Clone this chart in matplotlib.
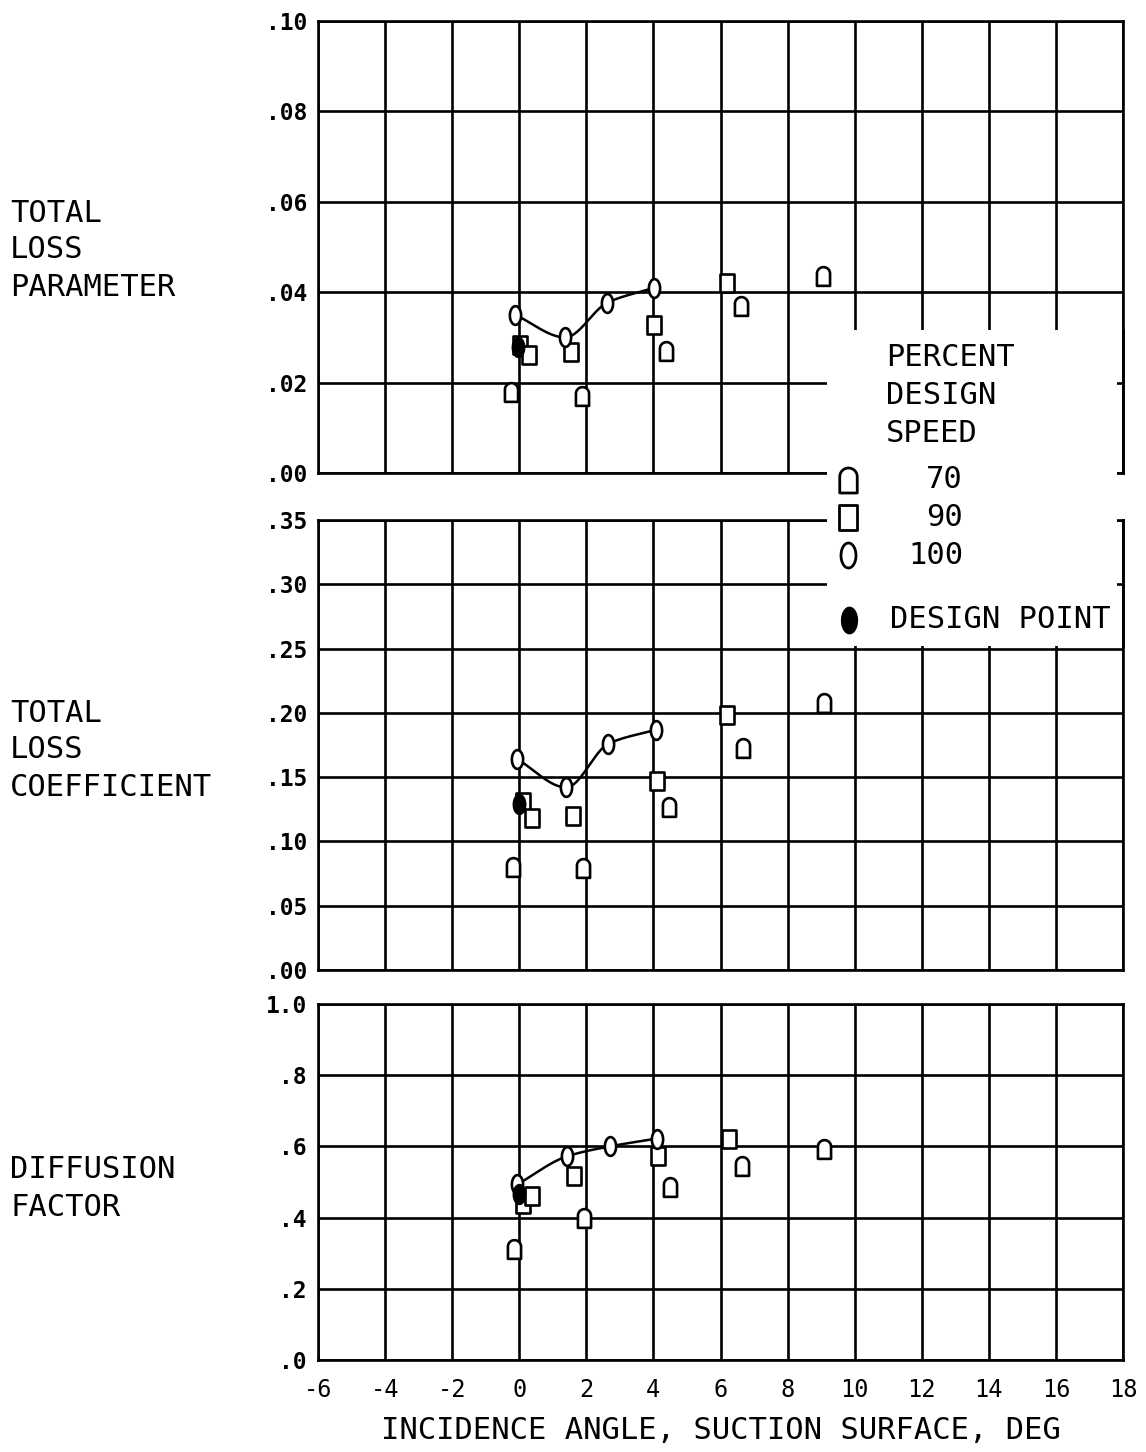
import numpy as np
import matplotlib.pyplot as plt
from matplotlib.path import Path
from matplotlib.markers import MarkerStyle
from matplotlib.patches import Rectangle

plt.rcParams['font.family'] = ['DejaVu Sans Mono', 'DejaVu Sans']

# incidence angle axis
x_ticks = [-6, -4, -2, 0, 2, 4, 6, 8, 10, 12, 14, 16, 18]
x_tick_labels = ['-6', '-4', '-2', '0', '2', '4', '6', '8', '10', '12', '14', '16', '18']

# total loss parameter
tlp_i_70 = [-0.24, 1.88, 4.39, 6.60, 9.07]
tlp_70 = [0.018, 0.017, 0.027, 0.037, 0.0435]
tlp_i_90 = [0.03, 0.30, 1.55, 4.03, 6.18]
tlp_90 = [0.0283, 0.026, 0.0267, 0.0327, 0.042]
tlp_i_100 = [-0.12, 1.37, 2.63, 4.03]
tlp_100 = [0.035, 0.030, 0.0377, 0.041]
tlp_design = (-0.03, 0.0278)

# total loss coefficient
tlc_i_70 = [-0.18, 1.91, 4.45, 6.66, 9.10]
tlc_70 = [0.080, 0.079, 0.127, 0.173, 0.208]
tlc_i_90 = [0.12, 0.39, 1.60, 4.12, 6.20]
tlc_90 = [0.131, 0.118, 0.120, 0.147, 0.198]
tlc_i_100 = [-0.06, 1.40, 2.66, 4.09]
tlc_100 = [0.164, 0.142, 0.176, 0.187]
tlc_design = (0.0, 0.129)

# diffusion factor
df_i_70 = [-0.15, 1.93, 4.48, 6.64, 9.10]
df_70 = [0.313, 0.400, 0.487, 0.545, 0.592]
df_i_90 = [0.12, 0.39, 1.63, 4.13, 6.26]
df_90 = [0.437, 0.462, 0.516, 0.572, 0.622]
df_i_100 = [-0.06, 1.42, 2.70, 4.10]
df_100 = [0.493, 0.572, 0.600, 0.622]
df_design = (0.0, 0.465)

speeds = ['70', '90', '100']


def pchip(x, y, xs):
    x = np.asarray(x, float)
    y = np.asarray(y, float)
    h = np.diff(x)
    d = np.diff(y) / h
    m = np.zeros_like(y)
    m[0], m[-1] = d[0], d[-1]
    for k in range(1, len(x) - 1):
        if d[k - 1] * d[k] > 0:
            w1 = 2 * h[k] + h[k - 1]
            w2 = h[k] + 2 * h[k - 1]
            m[k] = (w1 + w2) / (w1 / d[k - 1] + w2 / d[k])
    k = np.clip(np.searchsorted(x, xs) - 1, 0, len(x) - 2)
    t = (xs - x[k]) / h[k]
    h00 = 2 * t**3 - 3 * t**2 + 1
    h10 = t**3 - 2 * t**2 + t
    h01 = -2 * t**3 + 3 * t**2
    h11 = t**3 - t**2
    return h00 * y[k] + h10 * h[k] * m[k] + h01 * y[k + 1] + h11 * h[k] * m[k + 1]


def closed(verts):
    verts = np.vstack([verts, verts[:1]])
    codes = [Path.MOVETO] + [Path.LINETO] * (len(verts) - 2) + [Path.CLOSEPOLY]
    return MarkerStyle(Path(verts, codes), joinstyle='round')


t = np.linspace(0, np.pi, 24)
bell = closed(np.vstack([[[-0.35, -0.5], [0.35, -0.5]],
                         np.column_stack([0.35 * np.cos(t), 0.15 + 0.35 * np.sin(t)])]))
box = closed(np.array([[-0.35, -0.5], [0.35, -0.5], [0.35, 0.5], [-0.35, 0.5]]))
t = np.linspace(0, 2 * np.pi, 40)[:-1]
oval = closed(np.column_stack([0.3 * np.cos(t), 0.5 * np.sin(t)]))

fig = plt.figure(figsize=(11.46, 14.52), dpi=100)
W, H = 1146, 1452


def add_axes(top, bottom):
    return fig.add_axes([318 / W, 1 - bottom / H, 805 / W, (bottom - top) / H])


ax1 = add_axes(21, 473)
ax2 = add_axes(520, 970)
ax3 = add_axes(1004, 1360)

panels = [
    (ax1, (0, 0.10), [0, .02, .04, .06, .08, .10], ['.00', '.02', '.04', '.06', '.08', '.10'],
     (tlp_i_70, tlp_70), (tlp_i_90, tlp_90), (tlp_i_100, tlp_100), tlp_design),
    (ax2, (0, 0.35), [0, .05, .10, .15, .20, .25, .30, .35],
     ['.00', '.05', '.10', '.15', '.20', '.25', '.30', '.35'],
     (tlc_i_70, tlc_70), (tlc_i_90, tlc_90), (tlc_i_100, tlc_100), tlc_design),
    (ax3, (0, 1.0), [0, .2, .4, .6, .8, 1.0], ['.0', '.2', '.4', '.6', '.8', '1.0'],
     (df_i_70, df_70), (df_i_90, df_90), (df_i_100, df_100), df_design),
]

mk = dict(ls='none', ms=13.5, mew=1.9, mec='black', mfc='white', zorder=4)

for ax, ylim, yt, ytl, s70, s90, s100, dp in panels:
    ax.set_xlim(-6, 18)
    ax.set_ylim(*ylim)
    ax.set_xticks(x_ticks)
    ax.set_yticks(yt)
    ax.set_yticklabels(ytl, fontsize=16.5, fontweight='bold')
    ax.grid(True, color='black', lw=1.9)
    ax.set_axisbelow(True)
    ax.tick_params(length=0, pad=8)
    for sp in ax.spines.values():
        sp.set_linewidth(1.9)
    ax.spines['right'].set_zorder(20)

    xs = np.linspace(s100[0][0], s100[0][-1], 200)
    ax.plot(xs, pchip(s100[0], s100[1], xs), color='black', lw=1.8, zorder=3)
    ax.plot(*s70, marker=bell, **mk)
    ax.plot(*s90, marker=box, **mk)
    ax.plot(*s100, marker=oval, **mk)
    ax.plot(*dp, marker=oval, ls='none', ms=13.5, mew=1.9, color='black', zorder=5)

ax1.set_xticklabels([])
ax2.set_xticklabels([])
ax3.set_xticklabels(x_tick_labels, fontsize=17)
ax3.tick_params(axis='x', pad=13)
ax3.set_xlabel('INCIDENCE ANGLE, SUCTION SURFACE, DEG', fontsize=22, labelpad=10)

# overlay in pixel units for side labels and the key
ov = fig.add_axes([0, 0, 1, 1], zorder=10)
ov.set_xlim(0, W)
ov.set_ylim(H, 0)
ov.axis('off')

side_labels = [(['TOTAL', 'LOSS', 'PARAMETER'], 213),
               (['TOTAL', 'LOSS', 'COEFFICIENT'], 713),
               (['DIFFUSION', 'FACTOR'], 1170)]
for lines, y0 in side_labels:
    for j, s in enumerate(lines):
        ov.text(10, y0 + 37 * j, s, fontsize=22, ha='left', va='center')

ov.add_patch(Rectangle((827, 330), 290, 316, facecolor='white', edgecolor='none'))
for j, s in enumerate(['PERCENT', 'DESIGN', 'SPEED']):
    ov.text(886, 357 + 38 * j, s, fontsize=22, ha='left', va='center')
key = dict(ls='none', ms=18, mew=2.0, mec='black', mfc='white')
for y, m, s in zip([480, 517, 555], [bell, box, oval], speeds):
    ov.plot(848, y, marker=m, **key)
    ov.text(963, y, s, fontsize=22, ha='right', va='center')
ov.plot(849, 620, marker=oval, ls='none', ms=19, color='black')
ov.text(890, 620, 'DESIGN POINT', fontsize=22, ha='left', va='center')

# keep the right-hand frame of the upper panels above the key box
for ax in (ax1, ax2):
    ov.axvline(1122.5, ymin=1 - (473 if ax is ax1 else 646) / H,
               ymax=1 - (330 if ax is ax1 else 520) / H, color='black', lw=1.9)

fig.savefig('out.png', dpi=100, facecolor='white')
